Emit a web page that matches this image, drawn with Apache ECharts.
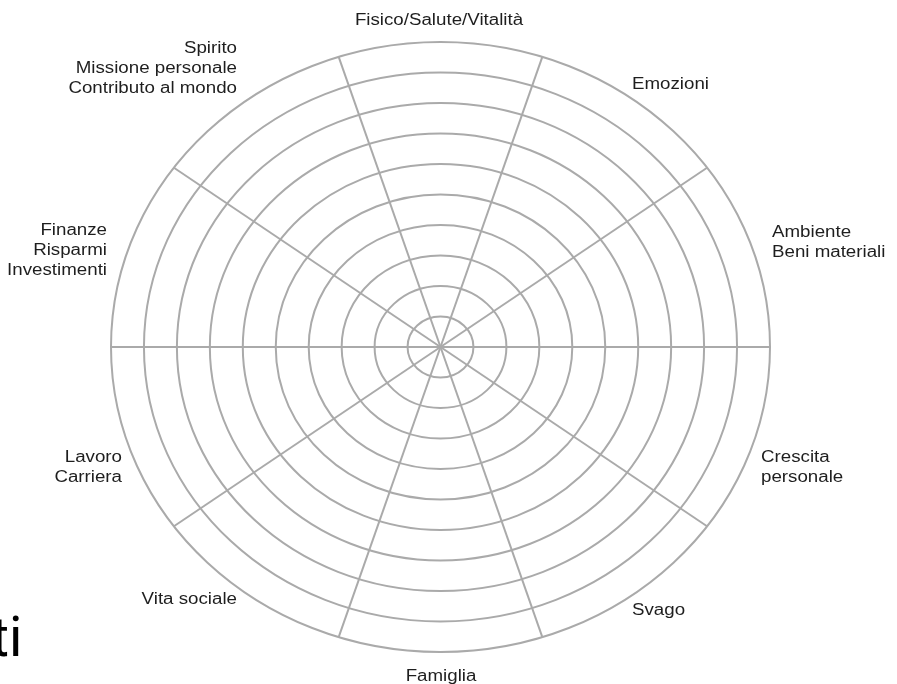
<!DOCTYPE html>
<html>
<head>
<meta charset="utf-8">
<script src="https://cdn.jsdelivr.net/npm/echarts@6/dist/echarts.min.js"></script>
<style>
    html, body { margin: 0; padding: 0; background: #fff; }
    #main { width: 897px; height: 684px; }
</style>
</head>
<body>
<div id="main"></div>
<script>
// settori della ruota, in senso orario partendo dall'alto
var categories = [
    'Fisico/Salute/Vitalità',
    'Emozioni',
    'Ambiente\nBeni materiali',
    'Crescita\npersonale',
    'Svago',
    'Famiglia',
    'Vita sociale',
    'Lavoro\nCarriera',
    'Finanze\nRisparmi\nInvestimenti',
    'Spirito\nMissione personale\nContributo al mondo'
];
// livelli della scala (cerchi concentrici)
var levels = [1, 2, 3, 4, 5, 6, 7, 8, 9, 10];
// divisori fra i settori, gradi dalla verticale in senso orario
var spokeAngles = [18, 54, 90, 126, 162, 198, 234, 270, 306, 342];
// frammento di testo in basso a sinistra
var cornerText = 'ti';

// posizione delle etichette: x, y, allineamento
var labelPos = [
    [439, 21, 'center'],
    [632, 85, 'left'],
    [772, 243, 'left'],
    [761, 468, 'left'],
    [632, 611, 'left'],
    [441, 677, 'center'],
    [237, 600, 'right'],
    [122, 468, 'right'],
    [107, 251, 'right'],
    [237, 69, 'right']
];

var chart = echarts.init(document.getElementById('main'));

var lineStyle = { fill: 'none', stroke: '#aaaaaa', lineWidth: 2 };
var maxLevel = levels[levels.length - 1];

var graphics = categories.map(function (name, i) {
    var p = labelPos[i];
    return {
        type: 'text',
        x: p[0],
        y: p[1],
        scaleX: 1.17,
        z: 10,
        style: {
            text: name,
            fill: '#1e1e1e',
            font: '16px "Liberation Sans", Arial, sans-serif',
            lineHeight: 20,
            textAlign: p[2],
            textVerticalAlign: 'middle'
        }
    };
});
graphics.push({
    type: 'text',
    x: -9,
    y: 642,
    z: 10,
    style: {
        text: cornerText,
        fill: '#000',
        font: '55px Roboto, sans-serif',
        textAlign: 'left',
        textVerticalAlign: 'middle'
    }
});

chart.setOption({
    animation: false,
    grid: { left: 111, top: 42, width: 659, height: 610 },
    xAxis: { type: 'value', min: -maxLevel, max: maxLevel, show: false },
    yAxis: { type: 'value', min: -maxLevel, max: maxLevel, show: false },
    graphic: graphics,
    series: [
        {
            type: 'custom',
            silent: true,
            data: levels.map(function (l) { return [l, 0]; }),
            renderItem: function (params, api) {
                var k = api.value(0);
                var c = api.coord([0, 0]);
                var s = api.size([k, k]);
                return {
                    type: 'ellipse',
                    shape: { cx: c[0], cy: c[1], rx: s[0], ry: s[1] },
                    style: lineStyle
                };
            }
        },
        {
            type: 'custom',
            silent: true,
            data: spokeAngles.map(function (a) { return [a, 0]; }),
            renderItem: function (params, api) {
                var a = api.value(0) * Math.PI / 180;
                var c = api.coord([0, 0]);
                var e = api.coord([maxLevel * Math.sin(a), maxLevel * Math.cos(a)]);
                return {
                    type: 'line',
                    shape: { x1: c[0], y1: c[1], x2: e[0], y2: e[1] },
                    style: lineStyle
                };
            }
        }
    ]
});
</script>
</body>
</html>
